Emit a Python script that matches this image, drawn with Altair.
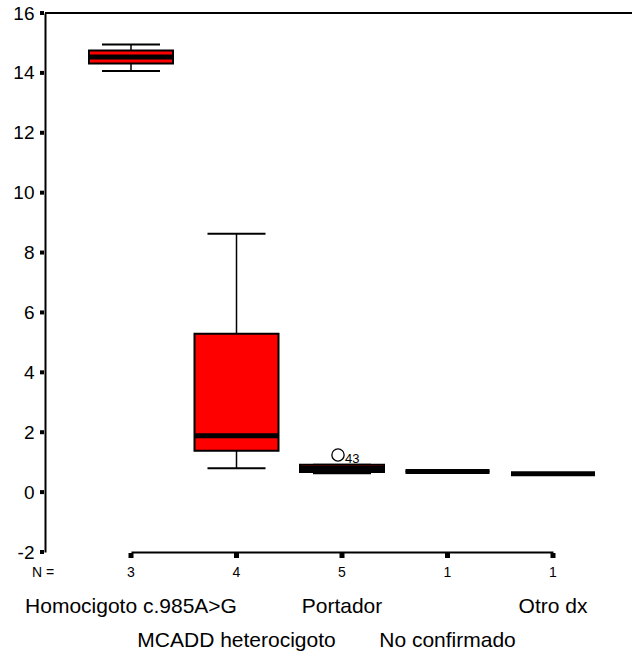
import altair as alt
import pandas as pd

# Box-plot summaries per diagnostic group
categories = ["Homocigoto c.985A>G", "MCADD heterocigoto", "Portador",
              "No confirmado", "Otro dx"]
counts = [3, 4, 5, 1, 1]
whisker_low = [14.06, 0.80, 0.63, 0.69, 0.61]
q1 = [14.31, 1.38, 0.675, 0.69, 0.61]
median = [14.53, 1.88, 0.79, 0.69, 0.61]
q3 = [14.75, 5.29, 0.91, 0.69, 0.61]
whisker_high = [14.95, 8.63, 0.91, 0.69, 0.61]
label_row = [0, 1, 0, 1, 0]

# Outlying cases
outlier_group = ["Portador"]
outlier_value = [1.24]
outlier_case = ["43"]

# Y axis tick values
y_ticks = list(range(-2, 17, 2))

W, H = 587, 539
FONT = "Liberation Sans"

summary = pd.DataFrame({
    "grupo": categories, "n": [str(c) for c in counts],
    "lo": whisker_low, "q1": q1, "med": median, "q3": q3, "hi": whisker_high,
    "row": label_row,
})
outliers = pd.DataFrame({"grupo": outlier_group, "valor": outlier_value,
                         "caso": outlier_case})
ticks_df = pd.DataFrame({"v": y_ticks})

x_enc = alt.X("grupo:N", sort=categories,
              scale=alt.Scale(type="point", range=[86, 508], padding=0),
              axis=alt.Axis(title=None, labels=False, ticks=False))
y_scale = alt.Scale(domain=[-2, 16], nice=False, zero=False)
y_axis = alt.Axis(title=None, values=y_ticks, ticks=False,
                  labelFont=FONT, labelFontSize=19, labelPadding=11,
                  labelExpr="toString(datum.value)")

base = alt.Chart(summary)
xg = alt.X("grupo:N", sort=categories)

whiskers = base.mark_rule(color="black", strokeWidth=1.5).encode(
    x=x_enc,
    y=alt.Y("lo:Q", scale=y_scale, axis=y_axis),
    y2="hi:Q",
)
cap_lo = base.mark_tick(color="black", size=58, thickness=2, opacity=1).encode(
    x=xg, y=alt.Y("lo:Q"))
cap_hi = base.mark_tick(color="black", size=58, thickness=2, opacity=1).encode(
    x=xg, y=alt.Y("hi:Q"))
boxes = base.mark_bar(size=84, color="#ff0000", stroke="black",
                      strokeWidth=2, opacity=1).encode(
    x=xg, y="q1:Q", y2="q3:Q")
medians = base.mark_tick(color="black", size=84, thickness=5,
                         opacity=1).encode(x=xg, y="med:Q")

points = alt.Chart(outliers).mark_point(
    shape="circle", size=150, color="black", strokeWidth=1.3, opacity=1,
    filled=False, xOffset=-4).encode(x=xg, y="valor:Q")
point_labels = alt.Chart(outliers).mark_text(
    align="left", baseline="alphabetic", dx=3, dy=8, font=FONT,
    fontSize=13, color="black").encode(x=xg, y="valor:Q", text="caso:N")

# Frame line along the top of the plot area
top_line = alt.Chart(summary).mark_rule(color="black", strokeWidth=2).encode(
    x=alt.value(0), x2=alt.value(W), y=alt.value(0))

# Square tick marks on both axes
y_tick_marks = alt.Chart(ticks_df).mark_rule(
    color="black", strokeWidth=4).encode(
    y="v:Q", x=alt.value(-5), x2=alt.value(-1))
x_tick_marks = base.mark_rule(color="black", strokeWidth=5).encode(
    x=xg, y=alt.value(H + 1), y2=alt.value(H + 6))

n_title = alt.Chart(summary).transform_filter("datum.grupo == 'Portador'").mark_text(
    align="left", baseline="alphabetic", font=FONT, fontSize=14,
    color="black", text="N =").encode(x=alt.value(-13), y=alt.value(H + 25))
n_labels = base.mark_text(baseline="alphabetic", font=FONT, fontSize=14,
                          color="black").encode(
    x=xg, y=alt.value(H + 25), text="n:N")
names_top = base.transform_filter("datum.row == 0").mark_text(
    baseline="alphabetic", font=FONT, fontSize=21, color="black").encode(
    x=xg, y=alt.value(H + 61), text="grupo:N")
names_bottom = base.transform_filter("datum.row == 1").mark_text(
    baseline="alphabetic", font=FONT, fontSize=21, color="black").encode(
    x=xg, y=alt.value(H + 95), text="grupo:N")

chart = alt.layer(
    top_line, whiskers, cap_lo, cap_hi, boxes, medians, points, point_labels,
    y_tick_marks, x_tick_marks,
    n_title, n_labels, names_top, names_bottom,
).properties(
    width=W, height=H,
    autosize=alt.AutoSizeParams(type="none"),
    padding={"left": 45, "top": 13, "right": 0, "bottom": 104},
    background="white",
).configure_view(stroke=None).configure_axis(
    grid=False, domainColor="black", domainWidth=2, labelColor="black",
)

chart.save("out.html", embed_options={"renderer": "svg", "actions": False})
